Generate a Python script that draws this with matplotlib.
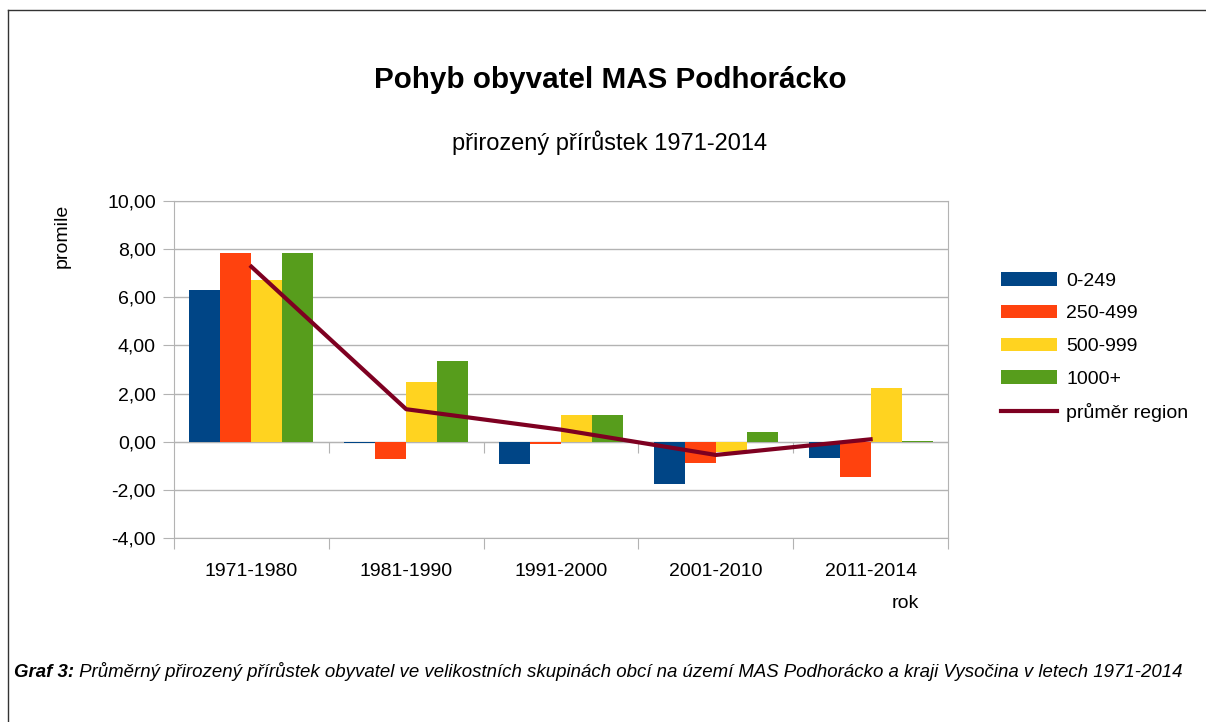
import numpy as np
import matplotlib.pyplot as plt
from matplotlib.lines import Line2D
from matplotlib.ticker import FuncFormatter, FixedLocator

plt.rcParams['font.family'] = ['Liberation Sans', 'DejaVu Sans']

categories = ["1971-1980", "1981-1990", "1991-2000", "2001-2010", "2011-2014"]
series_names = ["0-249", "250-499", "500-999", "1000+"]
v_0_249 = [6.30, -0.04, -0.91, -1.76, -0.66]
v_250_499 = [7.85, -0.70, -0.08, -0.87, -1.45]
v_500_999 = [6.72, 2.48, 1.11, -0.42, 2.23]
v_1000 = [7.85, 3.35, 1.11, 0.40, 0.04]
prumer_region = [7.27, 1.35, 0.50, -0.55, 0.10]

colors = ["#004586", "#ff420e", "#ffd320", "#579d1c"]
line_color = "#7e0021"
grid_color = "#b3b3b3"

W, H = 1206, 722
fig = plt.figure(figsize=(W / 100, H / 100), dpi=100)
ax = fig.add_axes([174 / W, 1 - 538 / H, (948 - 174) / W, 337 / H])

x = np.arange(len(categories))
bw = 0.2
handles = []
for i, (name, vals) in enumerate(zip(series_names, [v_0_249, v_250_499, v_500_999, v_1000])):
    b = ax.bar(x + (i - 1.5) * bw, vals, bw, color=colors[i], label=name, zorder=3)
    handles.append(b)
ln, = ax.plot(x, prumer_region, color=line_color, lw=3, label="průměr region", zorder=4)
handles.append(ln)

ax.set_xlim(-0.5, 4.5)
ax.set_ylim(-4, 10)
ax.set_yticks(np.arange(-4, 11, 2))
ax.yaxis.set_major_formatter(FuncFormatter(lambda v, p: f"{v:.2f}".replace(".", ",")))
ax.grid(axis="y", color=grid_color, lw=1, zorder=0)
for s in ax.spines.values():
    s.set_color(grid_color)
ax.tick_params(axis="y", length=8, color=grid_color, labelsize=14, pad=5)

bounds = np.arange(-0.5, 5, 1.0)
ax.xaxis.set_major_locator(FixedLocator(bounds))
ax.xaxis.set_minor_locator(FixedLocator(x))
ax.set_xticklabels([], minor=False)
ax.set_xticklabels(categories, minor=True)
ax.tick_params(axis="x", which="major", length=8, color=grid_color)
ax.tick_params(axis="x", which="minor", length=0, labelsize=14, pad=18)

# category ticks on the zero line
zero_ax = ax.secondary_xaxis((0 - (-4)) / 14)
zero_ax.xaxis.set_major_locator(FixedLocator(bounds[1:-1]))
zero_ax.set_xticklabels([])
zero_ax.tick_params(length=8, color=grid_color)
zero_ax.spines["bottom"].set_color(grid_color)

fig.text(62 / W, 1 - 236 / H, "promile", rotation=90, ha="center", va="center", fontsize=14)
fig.text(905 / W, 1 - 603 / H, "rok", ha="center", va="center", fontsize=14)

fig.text(610 / W, 1 - 80 / H, "Pohyb obyvatel MAS Podhorácko", ha="center", va="center",
         fontsize=21.3, fontweight="bold")
fig.text(610 / W, 1 - 143 / H, "přirozený přírůstek 1971-2014", ha="center", va="center",
         fontsize=17)

fig.legend(handles=handles, loc="upper left", bbox_to_anchor=(1001 / W, 1 - 272 / H),
           frameon=False, fontsize=14, handlelength=2.9, handletextpad=0.45,
           labelspacing=0.78, borderpad=0, borderaxespad=0)

t1 = fig.text(14 / W, 1 - 677 / H, "Graf 3:", fontsize=13.4, fontweight="bold",
              style="italic", va="baseline")
fig.add_artist(plt.Annotation(" Průměrný přirozený přírůstek obyvatel ve velikostních skupinách obcí "
                              "na území MAS Podhorácko a kraji Vysočina v letech 1971-2014",
                              xy=(1, 0), xycoords=t1, va="bottom", ha="left",
                              fontsize=13.4, style="italic"))

# frame around the picture
fig.add_artist(Line2D([8 / W, 8 / W], [0, 1 - 10 / H], color="#333333", lw=1))
fig.add_artist(Line2D([8 / W, 1], [1 - 10 / H, 1 - 10 / H], color="#333333", lw=1))

fig.savefig("out.png", dpi=100)
